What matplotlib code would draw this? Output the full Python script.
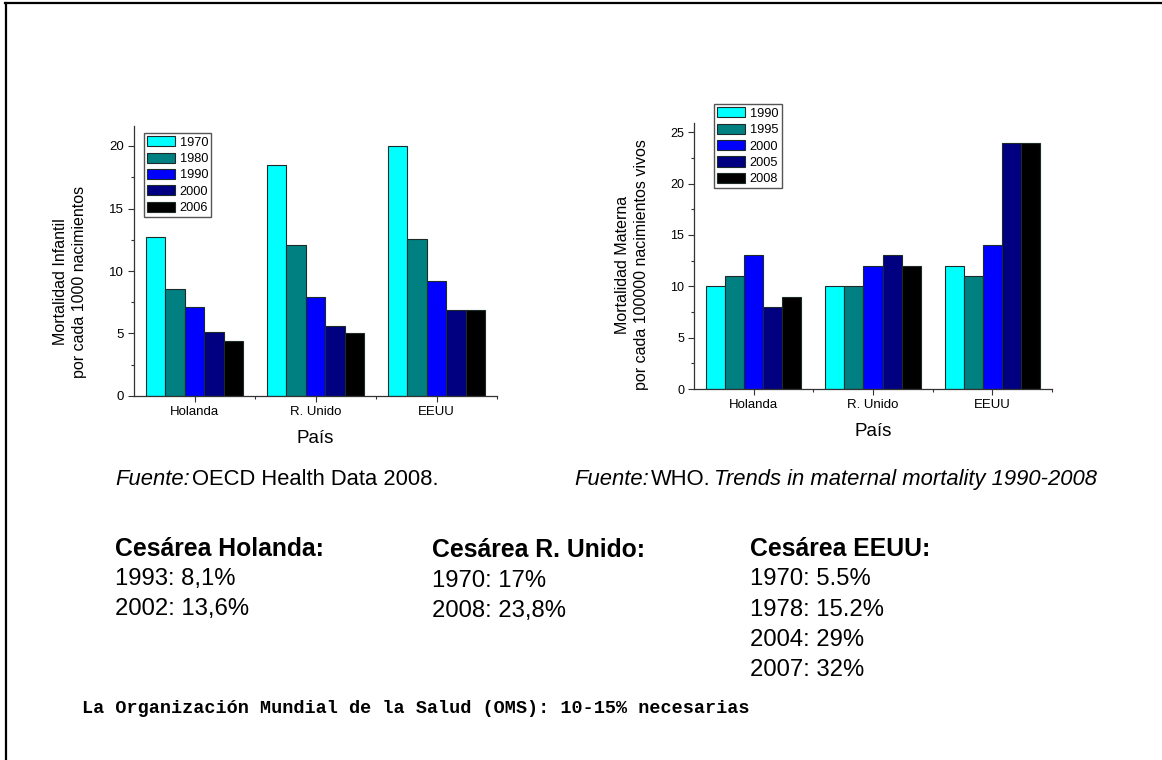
import numpy as np
import matplotlib
matplotlib.use('Agg')
import matplotlib.pyplot as plt
from matplotlib.lines import Line2D
from matplotlib.ticker import MultipleLocator, FixedLocator

plt.rcParams['font.family'] = ['Liberation Sans', 'DejaVu Sans']

paises = ['Holanda', 'R. Unido', 'EEUU']
colores = ['#00ffff', '#008080', '#0000ff', '#000080', '#000000']

# mortalidad infantil (por 1000 nacimientos)
anios_inf = ['1970', '1980', '1990', '2000', '2006']
inf_1970 = [12.7, 18.5, 20.0]
inf_1980 = [8.6, 12.1, 12.6]
inf_1990 = [7.1, 7.9, 9.2]
inf_2000 = [5.1, 5.6, 6.9]
inf_2006 = [4.4, 5.0, 6.9]

# mortalidad materna (por 100000 nacimientos vivos)
anios_mat = ['1990', '1995', '2000', '2005', '2008']
mat_1990 = [10, 10, 12]
mat_1995 = [11, 10, 11]
mat_2000 = [13, 12, 14]
mat_2005 = [8, 13, 24]
mat_2008 = [9, 12, 24]

W, H = 1162, 760
fig = plt.figure(figsize=(W / 100, H / 100), dpi=100)


def px(x, y):
    return x / W, 1 - y / H


def barras(ax, series, anios, ymax, ylab, lab_xy, leg_xy, tick_fs):
    x = np.arange(len(paises))
    w = 0.16
    for i, (vals, yr) in enumerate(zip(series, anios)):
        ax.bar(x - 0.4 + w * (i + 0.5), vals, w, color=colores[i],
               edgecolor='#1e2a2a', linewidth=0.8, label=yr)
    ax.set_xlim(-0.5, 2.5)
    ax.set_ylim(0, ymax)
    ax.set_xticks(x)
    ax.set_xticklabels(paises, fontsize=9.5)
    ax.xaxis.set_minor_locator(FixedLocator([0.5, 1.5, 2.5]))
    ax.yaxis.set_major_locator(MultipleLocator(5))
    ax.yaxis.set_minor_locator(MultipleLocator(2.5))
    ax.tick_params(axis='y', labelsize=tick_fs)
    ax.tick_params(which='major', length=4, width=0.8, color='#333333', pad=3)
    ax.tick_params(which='minor', length=2.5, width=0.8, color='#333333')
    for s in ['top', 'right']:
        ax.spines[s].set_visible(False)
    for s in ['left', 'bottom']:
        ax.spines[s].set_color('#333333')
        ax.spines[s].set_linewidth(0.9)
    ax.text(lab_xy[0], lab_xy[1], ylab, transform=ax.transAxes, rotation=90,
            ha='center', va='center', fontsize=11.5, linespacing=1.35,
            multialignment='center')
    leg = ax.legend(loc='upper left', bbox_to_anchor=leg_xy, borderaxespad=0,
                    fontsize=9.2, frameon=True, fancybox=False, framealpha=1,
                    edgecolor='#555555', handlelength=2.2, handleheight=0.85,
                    handletextpad=0.35, labelspacing=0.3, borderpad=0.25)
    leg.get_frame().set_linewidth(1.0)


# grafico izquierdo
ax1 = fig.add_axes([134 / W, 1 - 396 / H, 363 / W, 270 / H])
barras(ax1, [inf_1970, inf_1980, inf_1990, inf_2000, inf_2006], anios_inf, 21.6,
       'Mortalidad Infantil\npor cada 1000 nacimientos',
       (-0.176, 0.422), (0.0275, 0.974), 9.5)
ax1.text(0.5, -0.156, 'País', transform=ax1.transAxes, ha='center', va='center', fontsize=13.5)

# grafico derecho
ax2 = fig.add_axes([694 / W, 1 - 389 / H, 358 / W, 266 / H])
barras(ax2, [mat_1990, mat_1995, mat_2000, mat_2005, mat_2008], anios_mat, 25.9,
       'Mortalidad Materna\npor cada 100000 nacimientos vivos',
       (-0.173, 0.466), (0.056, 1.071), 9)
ax2.text(0.5, -0.158, 'País', transform=ax2.transAxes, ha='center', va='center', fontsize=13.5)

# fuentes
fs_f = 15.8
t = fig.text(*px(115, 485), 'Fuente:', fontsize=fs_f, style='italic', va='baseline')
fig.canvas.draw()
x0 = t.get_window_extent().x1
fig.text(x0 / W + 2 / W, 1 - 485 / H, 'OECD Health Data 2008.', fontsize=fs_f, va='baseline')

t = fig.text(*px(574, 485), 'Fuente:', fontsize=fs_f, style='italic', va='baseline')
fig.canvas.draw()
x0 = t.get_window_extent().x1
t = fig.text(x0 / W + 2 / W, 1 - 485 / H, 'WHO.', fontsize=fs_f, va='baseline')
fig.canvas.draw()
x0 = t.get_window_extent().x1
fig.text(x0 / W + 4 / W, 1 - 485 / H, 'Trends in maternal mortality 1990-2008',
         fontsize=fs_f, style='italic', va='baseline')

# cesareas
cesareas = [
    ('Cesárea Holanda:', ['1993: 8,1%', '2002: 13,6%'], 115, 556, 585),
    ('Cesárea R. Unido:', ['1970: 17%', '2008: 23,8%'], 432, 557, 587),
    ('Cesárea EEUU:', ['1970: 5.5%', '1978: 15.2%', '2004: 29%', '2007: 32%'], 750, 556, 585),
]
for titulo, lineas, x, yt, yl in cesareas:
    fig.text(*px(x, yt), titulo, fontsize=17.8, fontweight='bold', va='baseline')
    for k, ln in enumerate(lineas):
        fig.text(*px(x, yl + 30.5 * k), ln, fontsize=17.2, va='baseline')

fig.text(*px(82, 713), 'La Organización Mundial de la Salud (OMS): 10-15% necesarias',
         fontsize=13.3, fontweight='bold', va='baseline',
         family=['Liberation Mono', 'DejaVu Sans Mono'])

# marco
fig.add_artist(Line2D([5 / W, 1], [1 - 2.5 / H, 1 - 2.5 / H], transform=fig.transFigure,
                      color='black', linewidth=1.6))
fig.add_artist(Line2D([6 / W, 6 / W], [0, 1 - 2.5 / H], transform=fig.transFigure,
                      color='black', linewidth=1.6))

fig.savefig('out.png', dpi=100)
